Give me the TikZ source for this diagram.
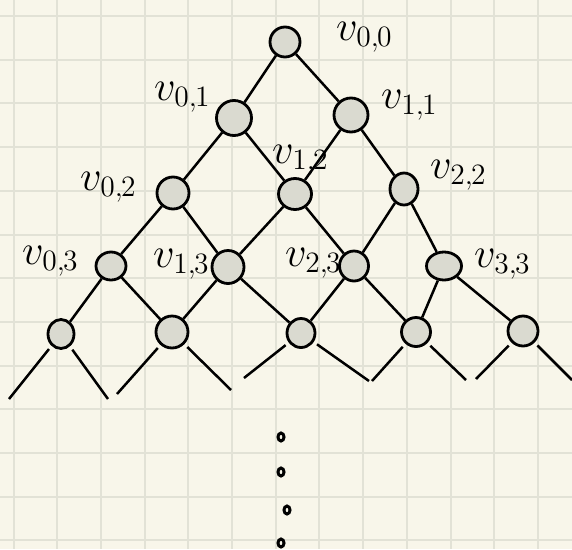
\documentclass[tikz,border=0pt]{standalone}
\definecolor{paper}{HTML}{F8F6EA}
\definecolor{gridln}{HTML}{E2E2D6}
\definecolor{vfill}{HTML}{DADAD0}
\usepackage{tikz}
\usepackage{graphicx}
\usetikzlibrary{shapes.geometric}
\newcommand{\vlab}[2]{\scalebox{2.05}{$v_{#1,\mkern-1mu#2}$}}

\begin{document}
\begin{tikzpicture}[x=1pt, y=-1pt,
  vtx/.style 2 args={ellipse, draw, fill=vfill, line width=2.8pt, inner sep=0pt, minimum width=#1, minimum height=#2},
  edge/.style={line width=2.5pt},
  lbl/.style={anchor=base west, inner sep=0pt, font=\fontsize{20}{22}\selectfont},
  dot/.style={ellipse, draw, fill=paper, line width=3pt, inner sep=0pt, minimum width=6, minimum height=8}]
  % paper and grid
  \fill[paper] (0,0) rectangle (572,549);
  \useasboundingbox (0,0) rectangle (572,549);
  \foreach \k in {0,...,12} {
    \draw[gridln, line width=2pt] ({13.5+43.7*\k},0) -- ({13.5+43.7*\k},549);
    \draw[gridln, line width=2pt] (0,{16+43.7*\k}) -- (572,{16+43.7*\k});
  }
  % vertices
  \node[vtx={30}{30}] (v00) at (285,42) {};
  \node[vtx={35}{35}] (v01) at (234,118) {};
  \node[vtx={34}{34}] (v11) at (351,115) {};
  \node[vtx={32}{32}] (v02) at (173,193) {};
  \node[vtx={33}{31}] (v12) at (295,194) {};
  \node[vtx={28}{32}] (v22) at (404,189) {};
  \node[vtx={30}{28}] (v03) at (111,266) {};
  \node[vtx={32}{33}] (v13) at (228,267) {};
  \node[vtx={29}{30}] (v23) at (354,266) {};
  \node[vtx={35}{28}] (v33) at (444,266) {};
  \foreach \i/\x/\y/\w/\h in {0/61/334/26/29, 1/172/332/32/32, 2/301/333/28/29, 3/416/332/29/29, 4/523/331/30/30}
    \node[vtx={\w}{\h}] (w\i) at (\x,\y) {};
  % loose ends
  \foreach \n/\x/\y in {s0a/9/399, s0b/108/399, s1a/117/394, s1b/231/390, s2a/244/378,
                        s2b/369/381, s3a/372/381, s3b/466/380, s4a/476/379, s4b/572/380}
    \coordinate (\n) at (\x,\y);
  % edges
  \foreach \a/\b in {v00/v01, v00/v11, v01/v02, v01/v12, v11/v12, v11/v22,
                     v02/v03, v02/v13, v12/v13, v12/v23, v22/v23, v22/v33,
                     v03/w0, v03/w1, v13/w1, v13/w2, v23/w2, v23/w3, v33/w3, v33/w4}
    \draw[edge] (\a) -- (\b);
  \foreach \i in {0,...,4} {
    \draw[edge, shorten <=4pt] (w\i) -- (s\i a);
    \draw[edge, shorten <=4pt] (w\i) -- (s\i b);
  }
  % labels
  \node[lbl] (l00) at (336,40) {\vlab{0}{0}};
  \node[lbl] (l01) at (154,100) {\vlab{0}{1}};
  \node[lbl] (l11) at (381,108) {\vlab{1}{1}};
  \node[lbl] (l12) at (272,163) {\vlab{1}{2}};
  \node[lbl] (l02) at (80,190) {\vlab{0}{2}};
  \node[lbl] (l22) at (430,178) {\vlab{2}{2}};
  \node[lbl] (l03) at (22,264) {\vlab{0}{3}};
  \node[lbl] (l13) at (153,267) {\vlab{1}{3}};
  \node[lbl] (l23) at (285,266) {\vlab{2}{3}};
  \node[lbl] (l33) at (474,267) {\vlab{3}{3}};
  % vertical dots
  \foreach \i/\x/\y in {1/281/437, 2/281/472, 3/287/510, 4/281/543}
    \node[dot] (d\i) at (\x,\y) {};
\end{tikzpicture}
\end{document}
